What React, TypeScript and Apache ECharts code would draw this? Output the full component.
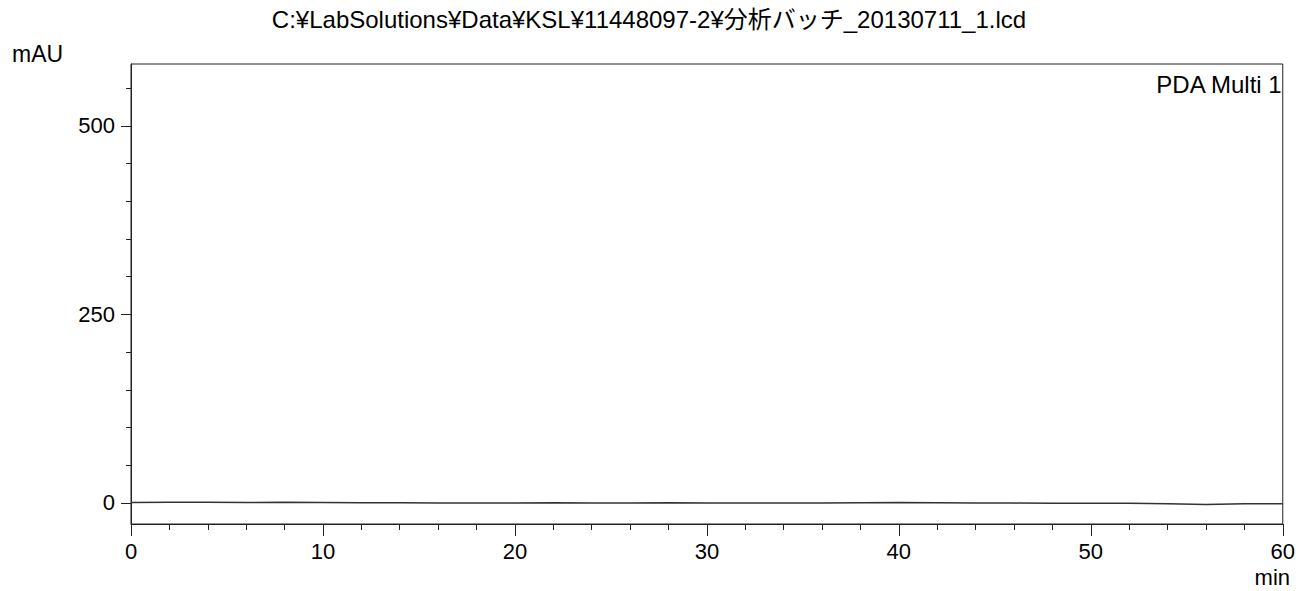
import React, { useEffect, useRef } from "react";
import * as echarts from "echarts";

const titleText = "C:¥LabSolutions¥Data¥KSL¥11448097-2¥分析バッチ_20130711_1.lcd";
const channelName = "PDA Multi 1";
const yUnit = "mAU";
const xUnit = "min";

const times = [0, 2, 4, 6, 8, 10, 12, 14, 16, 18, 20, 22, 24, 26, 28, 30, 32, 34, 36, 38, 40, 42, 44, 46, 48, 50, 52, 54, 56, 58, 60];
const absorbance = [0.5, 0.8, 1.0, 0.5, 0.8, 0.6, 0.3, 0.2, 0, -0.2, 0, 0.2, 0, -0.2, 0.1, 0, -0.3, -0.2, 0, 0.3, 0.4, 0.2, -0.1, -0.3, -0.5, -0.4, -0.6, -1.0, -2.2, -1.2, -1.0];

const yMajorTicks = [0, 250, 500];
const yMinorTicks = [50, 100, 150, 200, 300, 350, 400, 450, 550];
const yMin = -28;
const yMax = 582;

const FONT = "'Liberation Sans', Arial, sans-serif";

export default function App() {
  const ref = useRef<HTMLDivElement>(null);
  useEffect(() => {
    if (!ref.current) return;
    const chart = echarts.init(ref.current, null, { renderer: "svg" });
    const data = times.map((t, i) => [t, absorbance[i]]);
    chart.setOption({
      animation: false,
      backgroundColor: "#fff",
      title: {
        text: titleText,
        left: "center",
        top: 2,
        textStyle: { fontFamily: "'Liberation Sans', 'Noto Sans CJK JP', sans-serif", fontSize: 24, fontWeight: "normal", color: "#000" },
      },
      grid: { left: 131, right: 8, top: 64, bottom: 67, show: true, borderColor: "#222", borderWidth: 1, backgroundColor: "transparent" },
      xAxis: {
        type: "value",
        min: 0,
        max: 60,
        interval: 10,
        axisLine: { show: true, onZero: false, lineStyle: { color: "#222", width: 1 } },
        axisTick: { show: true, inside: false, length: 12, lineStyle: { color: "#222" } },
        minorTick: { show: true, splitNumber: 5, length: 6, lineStyle: { color: "#222" } },
        splitLine: { show: false },
        minorSplitLine: { show: false },
        axisLabel: { margin: 16, fontSize: 22, color: "#000", fontFamily: FONT },
      },
      yAxis: [
        {
          type: "value",
          min: yMin,
          max: yMax,
          position: "left",
          axisLine: { show: true, onZero: false, lineStyle: { color: "#222", width: 1 } },
          axisTick: { show: true, length: 10, customValues: yMajorTicks, lineStyle: { color: "#222" } },
          splitLine: { show: false },
          axisLabel: { customValues: yMajorTicks, margin: 16, fontSize: 22, color: "#000", fontFamily: FONT },
        },
        {
          type: "value",
          min: yMin,
          max: yMax,
          position: "left",
          offset: 0,
          axisLine: { show: false, onZero: false },
          axisTick: { show: true, length: 5, customValues: yMinorTicks, lineStyle: { color: "#222" } },
          splitLine: { show: false },
          axisLabel: { show: false },
        },
      ],
      series: [
        {
          type: "line",
          name: channelName,
          data,
          yAxisIndex: 0,
          showSymbol: false,
          lineStyle: { color: "#333", width: 1.5 },
        },
      ],
      graphic: [
        { type: "text", left: 12, top: 42, style: { text: yUnit, fontSize: 23, fill: "#000", fontFamily: FONT } },
        { type: "text", right: 15, top: 72, style: { text: channelName, fontSize: 24, fill: "#000", fontFamily: FONT } },
        { type: "text", right: 8, top: 566, style: { text: xUnit, fontSize: 22, fill: "#000", fontFamily: FONT } },
      ],
    });
    return () => chart.dispose();
  }, []);
  return <div ref={ref} style={{ position: "fixed", left: 0, top: 0, width: 1298, height: 591 }} />;
}
